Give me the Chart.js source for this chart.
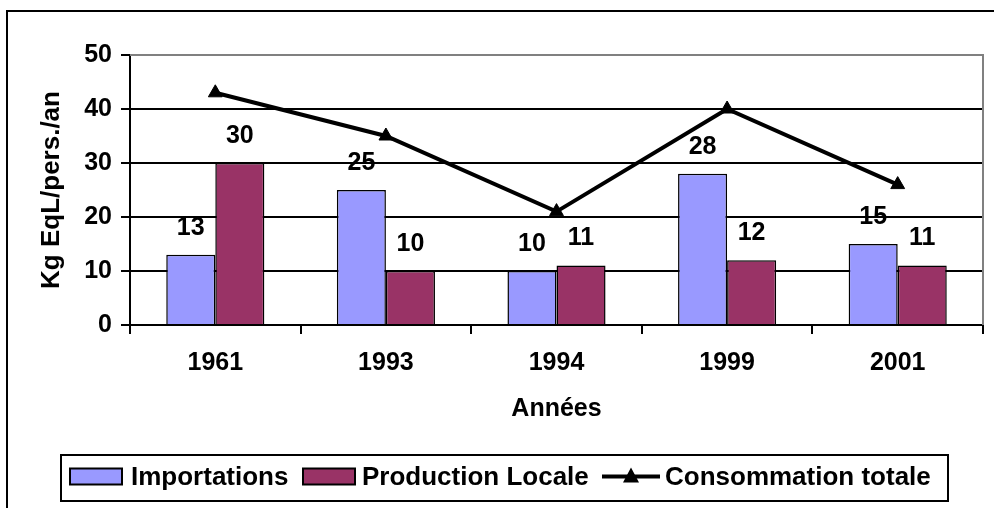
<!DOCTYPE html>
<html>
<head>
<meta charset="utf-8">
<script src="https://cdn.jsdelivr.net/npm/chart.js@4.4.1/dist/chart.umd.min.js"></script>
<style>
    html, body { margin: 0; padding: 0; background: #fff; }
    #wrap { width: 994px; height: 508px; }
</style>
</head>
<body>
<div id="wrap"><canvas id="chart" width="994" height="508"></canvas></div>
<script>
const years = ['1961', '1993', '1994', '1999', '2001'];
const importations = [13, 25, 10, 28, 15];
const productionLocale = [30, 10, 11, 12, 11];
const consommationTotale = [43, 35, 21, 40, 26];
const yTicks = [0, 10, 20, 30, 40, 50];

const FAMILY = '"Liberation Sans", Arial, sans-serif';
const font = { family: FAMILY, size: 25, weight: 'bold' };
const bigFont = { family: FAMILY, size: 26, weight: 'bold' };

// frame round the picture, grey plot border on top and right
const framePlugin = {
    id: 'frame',
    beforeDraw(chart) {
        const ctx = chart.ctx;
        ctx.save();
        ctx.fillStyle = '#fff';
        ctx.fillRect(0, 0, chart.width, chart.height);
        ctx.strokeStyle = '#000';
        ctx.lineWidth = 2;
        ctx.strokeRect(7, 11, 1100, 700);
        ctx.restore();
    },
    beforeDatasetsDraw(chart) {
        const { ctx, chartArea: a } = chart;
        ctx.save();
        ctx.strokeStyle = '#808080';
        ctx.lineWidth = 2;
        ctx.beginPath();
        ctx.moveTo(a.left, a.top);
        ctx.lineTo(a.right, a.top);
        ctx.lineTo(a.right, a.bottom);
        ctx.stroke();
        ctx.restore();
    }
};

// value labels above the bars
const barLabels = {
    id: 'barLabels',
    afterDatasetsDraw(chart) {
        const ctx = chart.ctx;
        ctx.save();
        ctx.font = `bold 25px ${FAMILY}`;
        ctx.fillStyle = '#000';
        ctx.textAlign = 'center';
        ctx.textBaseline = 'middle';
        [0, 1].forEach(i => {
            const meta = chart.getDatasetMeta(i);
            meta.data.forEach((bar, j) => {
                ctx.fillText(chart.data.datasets[i].data[j], bar.x, bar.y - 27);
            });
        });
        ctx.restore();
    }
};

// boxed legend under the chart, symbol/text x positions per item
const legendSlots = [[70, 131], [303, 362], [602, 665]];
const boxLegend = {
    id: 'boxLegend',
    afterDraw(chart) {
        const ctx = chart.ctx;
        const ds = chart.data.datasets;
        const cy = 476.5;
        ctx.save();
        ctx.lineWidth = 2;
        ctx.strokeStyle = '#000';
        ctx.strokeRect(61, 455, 887, 46);
        ctx.font = `bold 26px ${FAMILY}`;
        ctx.textBaseline = 'middle';
        ctx.textAlign = 'left';
        ds.forEach((d, i) => {
            const [sx, tx] = legendSlots[i];
            if (d.type === 'line') {
                ctx.strokeStyle = '#000';
                ctx.lineWidth = 4;
                ctx.beginPath();
                ctx.moveTo(sx, cy);
                ctx.lineTo(sx + 58, cy);
                ctx.stroke();
                ctx.fillStyle = '#000';
                ctx.beginPath();
                ctx.moveTo(sx + 29, cy - 9);
                ctx.lineTo(sx + 37, cy + 6);
                ctx.lineTo(sx + 21, cy + 6);
                ctx.closePath();
                ctx.fill();
            } else {
                ctx.fillStyle = d.backgroundColor;
                ctx.fillRect(sx, cy - 8, 52, 16);
                ctx.strokeStyle = '#000';
                ctx.lineWidth = 2;
                ctx.strokeRect(sx, cy - 8, 52, 16);
            }
            ctx.fillStyle = '#000';
            ctx.fillText(d.label, tx, cy + 1);
        });
        ctx.restore();
    }
};

new Chart(document.getElementById('chart'), {
    data: {
        labels: years,
        datasets: [
            {
                type: 'bar',
                label: 'Importations',
                data: importations,
                backgroundColor: '#9999FF',
                borderColor: '#000',
                borderWidth: 1.5,
                order: 1
            },
            {
                type: 'bar',
                label: 'Production Locale',
                data: productionLocale,
                backgroundColor: '#993366',
                borderColor: '#000',
                borderWidth: 1.5,
                order: 1
            },
            {
                type: 'line',
                label: 'Consommation totale',
                data: consommationTotale,
                borderColor: '#000',
                backgroundColor: '#000',
                borderWidth: 4,
                pointStyle: 'triangle',
                pointRadius: 8,
                pointBorderWidth: 1,
                fill: false,
                tension: 0,
                order: 0
            }
        ]
    },
    options: {
        responsive: false,
        animation: false,
        devicePixelRatio: 1,
        layout: { padding: { left: 0, right: 11, top: 55, bottom: 73 } },
        plugins: {
            legend: { display: false },
            tooltip: { enabled: false }
        },
        datasets: {
            bar: { barPercentage: 1, categoryPercentage: 0.575 }
        },
        scales: {
            x: {
                offset: true,
                grid: {
                    offset: true,
                    drawOnChartArea: false,
                    drawTicks: true,
                    tickLength: 9,
                    color: '#000',
                    lineWidth: 2
                },
                border: { color: '#000', width: 2 },
                ticks: { color: '#000', font: font, padding: 14, maxRotation: 0 },
                title: {
                    display: true,
                    text: 'Années',
                    color: '#000',
                    font: font,
                    padding: { top: 0, bottom: 11 }
                },
                afterFit(scale) { scale.height = 110; }
            },
            y: {
                min: yTicks[0],
                max: yTicks[yTicks.length - 1],
                grid: {
                    color: '#000',
                    lineWidth: 2,
                    drawTicks: true,
                    tickLength: 9
                },
                border: { color: '#000', width: 2 },
                ticks: {
                    stepSize: yTicks[1] - yTicks[0],
                    color: '#000',
                    font: font,
                    padding: 9
                },
                title: {
                    display: true,
                    text: 'Kg EqL/pers./an',
                    color: '#000',
                    font: bigFont,
                    padding: { top: 36, bottom: 0 }
                },
                afterFit(scale) { scale.width = 130; }
            }
        }
    },
    plugins: [framePlugin, barLabels, boxLegend]
});
</script>
</body>
</html>
